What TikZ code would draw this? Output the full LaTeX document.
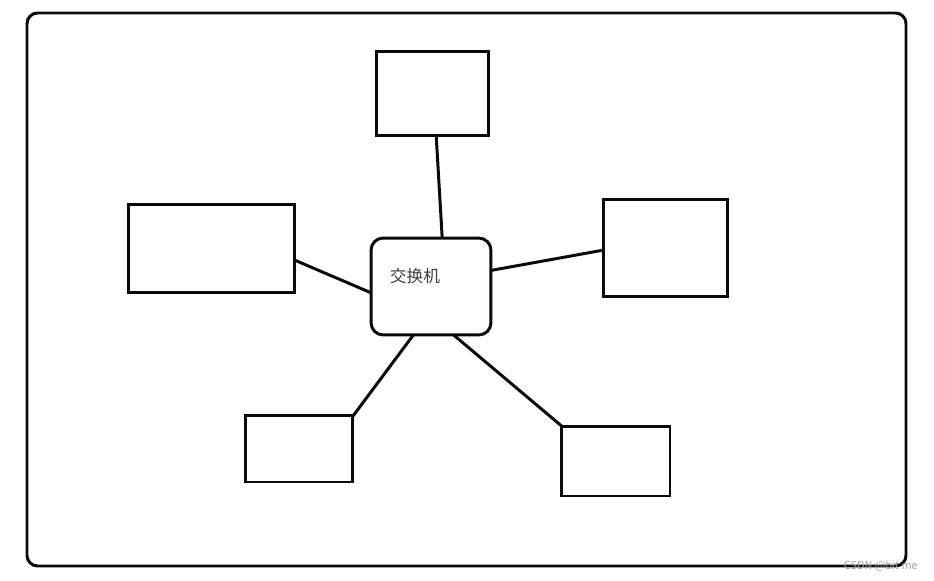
\documentclass[tikz,border=0pt]{standalone}
\usepackage{fontspec}
\newfontfamily\cjk{Noto Sans CJK SC}
\usetikzlibrary{positioning}
\definecolor{lblk}  {RGB}{ 10, 10, 10}
\definecolor{tgray} {RGB}{ 60, 60, 60}
\definecolor{wgray} {RGB}{160,160,160}
\tikzset{
  % plain host box
  HB/.style={rectangle,draw=lblk,line width=1.7pt,outer sep=0pt,
             minimum width=#1},
  HB/.default=2.2cm,
  % rounded switch box
  SB/.style={rectangle,rounded corners=7pt,draw=lblk,line width=1.7pt,
             outer sep=0pt,minimum width=2.4cm,minimum height=1.94cm},
  % link line
  Lnk/.style={line width=1.7pt,color=lblk},
}
\begin{document}
\begin{tikzpicture}[x=0.02cm,y=-0.02cm]
      \useasboundingbox (0,0) rectangle (934,581);
      \draw[line width=1.7pt,rounded corners=6pt,color=lblk]
            (27,13) rectangle (906,566);
      % switch in the middle
      \node[SB] (sw) at (431,286.5) {};
      \node[font=\cjk\fontsize{9.5pt}{11pt}\selectfont,text=tgray,inner sep=0pt]
            (swl) at (415,276) {交换机};
      % hosts
      \node[HB=2.26cm,minimum height=1.7cm]  (top) at (432.5,93.5) {};
      \node[HB=3.34cm,minimum height=1.78cm] (lft) at (211.5,248.5) {};
      \node[HB=2.5cm,minimum height=1.96cm]  (rgt) at (665.5,248) {};
      \node[HB=2.16cm,minimum height=1.34cm] (bl)  at (299,448.5) {};
      \node[HB=2.18cm,minimum height=1.4cm]  (br)  at (615.5,461) {};
      % links
      \draw[Lnk] (top.-85) -- (sw.77);
      \draw[Lnk] (lft.-8) -- (sw.186);
      \draw[Lnk] (sw.15) -- (rgt.182);
      \draw[Lnk] (sw.-110) -- (bl.31);
      \draw[Lnk] (sw.-65) -- (br.147);
      % watermark
      \node[font=\cjk\fontsize{6.2pt}{7pt}\selectfont,text=wgray,inner sep=0pt,
            anchor=east] (wm) at (918,566) {CSDN @bit me};
    \end{tikzpicture}
\end{document}
